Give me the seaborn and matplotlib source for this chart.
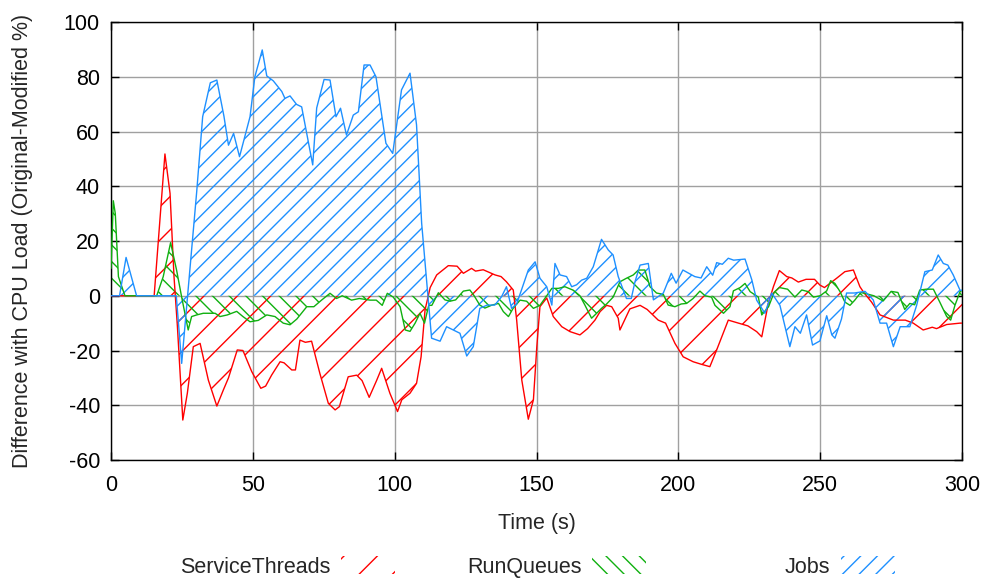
import numpy as np
import matplotlib
matplotlib.use('Agg')
import matplotlib.pyplot as plt
import seaborn as sns
from matplotlib.patches import Patch

# (time s, difference %)
service_threads = [
    (0, 0), (15.2, 0), (19, 51.8), (20.8, 37.4), (22.2, 7), (23.4, -11.3), (25.3, -45.4),
    (26.9, -35.6), (29, -18.6), (31.4, -17.4), (34.3, -30.8), (37.3, -40.3), (39.6, -34.4),
    (41.4, -30), (44.5, -19.8), (46.5, -20), (49.6, -27.7), (52.8, -33.8), (54.5, -33),
    (56.6, -29), (59.6, -24.1), (61, -24.5), (63.7, -27.1), (65, -27.1), (66.6, -16.2),
    (68.5, -17), (70.7, -16.6), (73.6, -28.3), (76.6, -39.3), (79, -41.7), (80.5, -40.5),
    (83.6, -29.6), (86.6, -29), (88.5, -31), (91, -37.1), (93.6, -31), (95.4, -26.5),
    (98.3, -35.6), (101, -42.3), (102.5, -38), (105.4, -35.6), (107.7, -32), (109.3, -22.3),
    (110.7, -5.2), (112.5, 3), (114.8, 7.6), (118.9, 11), (122, 10.8), (124.2, 8.2),
    (127.1, 10), (128.5, 9), (131.2, 9.5), (135.4, 7.6), (137.5, 7), (139.4, 5.1),
    (141.8, 2.1), (143, -8.9), (144.8, -30.8), (147.1, -45.1), (148.9, -38), (150.1, -18.6),
    (151.2, -4), (153.6, -0.8), (155.9, -7.6), (158.9, -11.3), (161.8, -13.1), (165.3, -14.3),
    (168, -12), (170.6, -8.9), (172.4, -5.8), (174.7, -3.5), (176.5, -4), (178.8, -8.2),
    (179.4, -12.5), (182.9, -4.8), (186.5, -3.5), (189, -5), (192.9, -8.9), (195.5, -10),
    (198.8, -17.4), (201.7, -22.3), (205.2, -24.1), (208, -25), (211.1, -25.9), (213.5, -19.8),
    (217.6, -8.9), (221.2, -10), (224.5, -11), (227.6, -13.1), (229.4, -15), (231.7, -2.8),
    (233.5, 3.3), (235.6, 9.2), (238.2, 7), (240, 6.5), (242.3, 5), (245, 6), (248, 6),
    (249.9, 3.9), (251.5, 3), (255.8, 6.4), (258.7, 8.8), (261.7, 9.4), (264, 3.3),
    (265.5, 1), (268.1, -2.3), (271.1, -7), (275.8, -8.9), (280, -8.9), (282.8, -10),
    (286.3, -12.5), (289.5, -11.5), (291, -12), (294.6, -10.5), (299.3, -10), (300, -10),
]

run_queues = [
    (0, 10), (0.8, 34.7), (1.5, 30), (2.6, 7), (4.9, 0), (16.1, 0), (18.4, 7), (21, 19.4),
    (23.1, 9.4), (24.9, -0.5), (27.2, -12.5), (28.4, -7.6), (30.2, -7), (32.5, -6.4),
    (36.7, -6.4), (38.4, -7.6), (41, -7), (44.3, -5.7), (46.5, -7.6), (49, -9.5), (51.9, -9),
    (54.9, -7), (57.8, -7.6), (60.7, -10), (63.1, -10.6), (65.5, -8.5), (69, -4), (71.5, -4),
    (74.2, -1.6), (77.2, 0.9), (79.5, -1), (81.5, 0), (84.8, -1.6), (87.5, -1), (91.3, -1.6),
    (93.5, -1.6), (95.6, -3.5), (97.4, 0.9), (99.5, -0.5), (101.9, -4), (103.7, -12.5),
    (105.4, -13), (107.2, -10), (108.9, -6.4), (110.5, -10), (112, -3.5), (113.1, -3.5),
    (115.4, 1.1), (117.7, -1.5), (119.5, -2), (121.5, -1.5), (124.2, 1.7), (126.5, 2.1),
    (128, 0), (130, -3.4), (131.8, -4.5), (134.3, -3.4), (136.6, -2.8), (138.3, -5.8),
    (140.1, -7.6), (141.8, -4.5), (144.2, -1.6), (146.5, -2), (148.9, -4.6), (151.2, -3.5),
    (153.6, 0), (155.4, 2.7), (157.7, 2.7), (160, 3.3), (163, 2), (165.3, 0), (167.1, -3.5),
    (169.4, -8.2), (171.2, -6.4), (172.9, -4.6), (174.7, -3), (177, -0.5), (179.4, 5.1),
    (181.7, 6.4), (184.1, 7.6), (185.9, 9.4), (188.2, 9.4), (190, 3.3), (192.3, 1),
    (194.7, 0.5), (196.4, -3.4), (198.8, -4), (201, -3), (202.9, -2.8), (205.2, -1),
    (207.6, 1.7), (209.4, 0), (211.7, -0.5), (212.9, -3.5), (215.9, -6.4), (218.2, -4),
    (219.4, 1.8), (221.8, 3), (223.5, 4.5), (225.3, 1.5), (228.2, -0.5), (229.4, -7),
    (231.8, -4), (233.8, 1.3), (235.6, 3), (238.5, 2.4), (241.1, -0.5), (243.5, 2.1),
    (245.8, 1.5), (247.6, -0.5), (250, 0), (252.3, 1.8), (253.7, 5.5), (255.2, 4.5),
    (257, 1.5), (258.7, -2.3), (260.5, -3.5), (262.2, -1.6), (264.3, 1.2), (267.1, 0.5),
    (268.9, 0), (272.2, -1.9), (275, 1.6), (277.4, 1.2), (279.8, -5), (281.6, -2.8),
    (283.3, -3.3), (285.1, 2.1), (287.4, 2.4), (289.9, 2.4), (292.2, -2.4), (294.6, -7.6),
    (296, -8.9), (297.5, -3.5), (299.3, 1.5), (300, 2),
]

jobs = [
    (0, 0), (3, 0), (5.3, 14), (9, 0), (23, 0), (24.9, -24.7), (30.2, 38), (32.3, 65.4),
    (35, 77.8), (37.3, 78.8), (39.8, 65.6), (41.4, 55), (43.2, 59.3), (45.3, 50.8),
    (49, 65.4), (50.7, 80), (53.3, 89.8), (54.9, 80.3), (57.2, 78.5), (60.2, 74.6),
    (61.3, 72.1), (63.1, 73), (65.4, 69.9), (67.2, 69), (71.1, 47.8), (72.5, 68.6),
    (75.1, 79), (77.2, 78.8), (79.3, 65.4), (80.9, 68.5), (83, 58.7), (85.4, 66),
    (87.2, 67.2), (89.2, 84.3), (91.3, 84.3), (93.4, 80), (96.9, 55.7), (99.3, 52),
    (102.4, 75.2), (105.4, 81.3), (107.7, 62.4), (109.5, 26.5), (113, -15.5), (116, -16.6),
    (118.3, -11.3), (123, -13.7), (125.4, -22), (127.7, -18.6), (130, -4.6), (132.6, -3.4),
    (135.3, -3.4), (137.7, -0.3), (139.4, 3.3), (141.2, -4.6), (143, -3), (147.1, 9.4),
    (149.5, 12.4), (151.2, 6.4), (153.6, 3.3), (155.4, -3.4), (156.5, 11.8), (158.3, 7.6),
    (160.6, 7), (162.4, 3.3), (164.1, 4), (165.9, 5.7), (167.7, 6.4), (170, 10.6),
    (172.9, 20.6), (175.3, 16.7), (177, 14.9), (178.8, 7), (181.7, -1), (183.4, -1),
    (184.7, 5.1), (186.5, 11.2), (189.4, 11.8), (191.2, -1.5), (194.7, 1), (197.5, 8.2),
    (199.2, 4.6), (201.6, 9.4), (205.8, 7), (208, 6.5), (210, 10.6), (212.1, 7.5),
    (213.5, 12.1), (215.5, 11.5), (217.6, 13.7), (219.5, 13), (223.5, 13.4), (225.9, 5.8),
    (227.6, -1.6), (230.5, -6.4), (232.9, 1), (235.8, -3.5), (239.3, -18.6), (241.1, -11.3),
    (243, -13.7), (245.2, -7), (247.3, -18), (249.9, -16.5), (252.3, -7.3), (254.1, -14.3),
    (255.2, -15.5), (257.5, -8.5), (259.3, 1), (262, 1), (265.8, 1.6), (268.7, -1.5),
    (271.1, -10), (273.4, -10), (275.8, -18.6), (278.2, -11.3), (281.6, -11.3), (284, -3.5),
    (286.9, 8.8), (289.5, 9.4), (291.6, 14.9), (293.4, 11.8), (295, 11.2), (296.9, 7.6),
    (299.3, 2), (300, 2),
]

series_names = ['ServiceThreads', 'RunQueues', 'Jobs']
series_data = [service_threads, run_queues, jobs]
colors = ['#ff0000', '#10b010', '#1e90ff']
hatches = ['/', '\\\\', '//']

sns.set_theme(style='white')
plt.rcParams['font.family'] = ['Liberation Sans', 'DejaVu Sans']
plt.rcParams['hatch.linewidth'] = 1.0
plt.rcParams['axes.unicode_minus'] = False

FS = 15.5

fig = plt.figure(figsize=(9.87, 5.82), dpi=100)
ax = fig.add_axes([0.1125, 0.2096, 0.8622, 0.7526])

for name, pts, col, h in zip(series_names, series_data, colors, hatches):
    arr = np.array(pts, dtype=float)
    t, v = arr[:, 0], arr[:, 1]
    ax.fill_between(t, v, 0, facecolor='none', edgecolor=col, hatch=h, linewidth=0,
                    interpolate=True, zorder=2)
    sns.lineplot(x=t, y=v, ax=ax, color=col, linewidth=1.0, zorder=3, estimator=None, sort=False)

ax.set_xlim(0, 300)
ax.set_ylim(-60, 100)
ax.set_xticks(np.arange(0, 301, 50))
ax.set_yticks(np.arange(-60, 101, 20))
ax.grid(True, color='#a0a0a0', linewidth=1.0, zorder=0)
ax.set_axisbelow(True)
ax.tick_params(direction='in', length=6, width=1, colors='black', labelsize=FS,
               top=True, right=True, bottom=True, left=True)
ax.tick_params(axis='x', pad=11)
ax.tick_params(axis='y', pad=8)
for sp in ax.spines.values():
    sp.set_color('black')
    sp.set_linewidth(1.0)
ax.set_xlabel('Time (s)', fontsize=FS, labelpad=12)
ax.set_ylabel('Difference with CPU Load (Original-Modified %)', fontsize=FS, labelpad=22)

# key entries: right-aligned text followed by a hatch sample, equal column widths
key_right = [395, 646, 895]
for name, col, h, xr in zip(series_names, colors, hatches, key_right):
    handle = Patch(facecolor='none', edgecolor=col, hatch=h, linewidth=0)
    fig.legend([handle], [name], loc='center right', bbox_to_anchor=(xr / 987, 1 - 567 / 582),
               frameon=False, fontsize=FS, markerfirst=False, handlelength=2.5,
               handleheight=0.9, handletextpad=0.5, borderpad=0, borderaxespad=0)

fig.savefig('out.png', dpi=100)
